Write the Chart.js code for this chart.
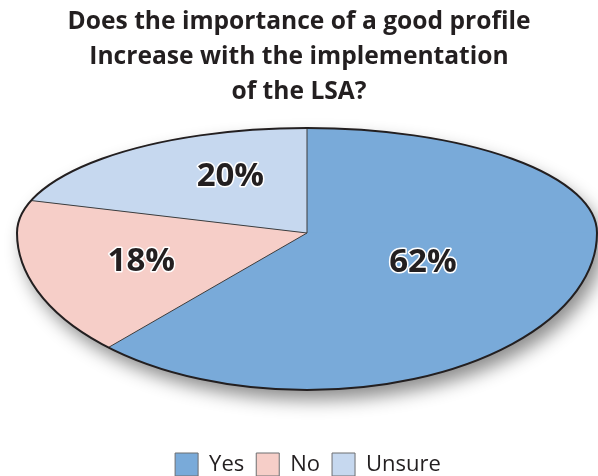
<!DOCTYPE html>
<html>
<head>
<meta charset="utf-8">
<script src="https://cdn.jsdelivr.net/npm/chart.js@4.4.0/dist/chart.umd.min.js"></script>
<style>
  html, body { margin: 0; padding: 0; background: #ffffff; }
</style>
</head>
<body>
<canvas id="pieChart" width="598" height="476"></canvas>
<script>
// data
var categories = ['Yes', 'No', 'Unsure'];
var shares = [62, 18, 20];
var titleLines = ['Does the importance of a good profile', 'Increase with the implementation', 'of the LSA?'];

var sliceColors = ['#79aad9', '#f6cec8', '#c6d8ef'];
var inkColor = '#231f20';

// where the tilted pie sits on the page (apex, half axes above / below it)
var tilt = { cx: 307, cy: 233, rx: 290, ryTop: 105, ryBot: 157 };
var labelRadius = [0.43, 0.59, 0.52];
var labelNudge = [[0, 5], [0, 6], [12, -12]];

function edgePoint(angle, f) {
  var s = Math.sin(angle);
  var ry = s < 0 ? tilt.ryTop : tilt.ryBot;
  return { x: tilt.cx + tilt.rx * Math.cos(angle) * f, y: tilt.cy + ry * s * f };
}

function eggPath(ctx) {
  ctx.beginPath();
  ctx.ellipse(tilt.cx, tilt.cy, tilt.rx, tilt.ryTop, 0, Math.PI, 2 * Math.PI);
  ctx.ellipse(tilt.cx, tilt.cy, tilt.rx, tilt.ryBot, 0, 0, Math.PI);
  ctx.closePath();
}

var tiltedPie = {
  id: 'tiltedPie',
  afterLayout: function (chart) {
    // legend sits a little right of the title in the original
    chart.legend.left += 9;
    chart.legend.right += 9;
  },
  beforeDatasetsDraw: function (chart) {
    var ctx = chart.ctx;
    var arcs = chart.getDatasetMeta(0).data;
    var W = chart.width, H = chart.height;

    // soft drop shadow under the whole pie
    ctx.save();
    eggPath(ctx);
    ctx.shadowColor = 'rgba(0,0,0,0.45)';
    ctx.shadowBlur = 18;
    ctx.shadowOffsetX = 6;
    ctx.shadowOffsetY = 10;
    ctx.fillStyle = sliceColors[0];
    ctx.fill();
    ctx.restore();

    // far half squashed more than near half
    var halves = [
      { top: 0, bottom: tilt.cy + 0.5, ry: tilt.ryTop },
      { top: tilt.cy - 0.5, bottom: H, ry: tilt.ryBot }
    ];
    halves.forEach(function (h) {
      ctx.save();
      ctx.beginPath();
      ctx.rect(0, h.top, W, h.bottom - h.top);
      ctx.clip();
      arcs.forEach(function (arc) {
        var r = arc.outerRadius;
        ctx.save();
        ctx.translate(tilt.cx, tilt.cy);
        ctx.scale(tilt.rx / r, h.ry / r);
        ctx.translate(-arc.x, -arc.y);
        arc.draw(ctx);
        ctx.restore();
      });
      ctx.restore();
    });

    // slice dividers
    ctx.save();
    ctx.strokeStyle = '#3d3d3d';
    ctx.lineWidth = 1;
    arcs.forEach(function (arc) {
      var p = edgePoint(arc.startAngle, 1);
      ctx.beginPath();
      ctx.moveTo(tilt.cx, tilt.cy);
      ctx.lineTo(p.x, p.y);
      ctx.stroke();
    });
    ctx.restore();

    // outline
    ctx.save();
    eggPath(ctx);
    ctx.strokeStyle = inkColor;
    ctx.lineWidth = 2;
    ctx.stroke();
    ctx.restore();

    // percentage labels
    ctx.save();
    ctx.font = 'bold 33px "Open Sans"';
    ctx.textAlign = 'center';
    ctx.textBaseline = 'middle';
    ctx.lineJoin = 'round';
    arcs.forEach(function (arc, i) {
      var mid = (arc.startAngle + arc.endAngle) / 2;
      var p = edgePoint(mid, labelRadius[i]);
      var x = p.x + labelNudge[i][0], y = p.y + labelNudge[i][1];
      var txt = shares[i] + '%';
      ctx.strokeStyle = '#ffffff';
      ctx.lineWidth = 3;
      ctx.strokeText(txt, x, y);
      ctx.fillStyle = inkColor;
      ctx.fillText(txt, x, y);
    });
    ctx.restore();

    return false;
  }
};

new Chart(document.getElementById('pieChart'), {
  type: 'pie',
  data: {
    labels: categories,
    datasets: [{
      data: shares,
      backgroundColor: sliceColors,
      borderWidth: 0
    }]
  },
  options: {
    responsive: false,
    devicePixelRatio: 1,
    animation: false,
    layout: { padding: { left: 10, right: 10, bottom: -10 } },
    plugins: {
      title: {
        display: true,
        text: titleLines,
        color: inkColor,
        font: { family: 'Open Sans', size: 24.6, weight: 'bold', lineHeight: 1.42 },
        padding: { top: 5, bottom: 10 }
      },
      legend: {
        position: 'bottom',
        labels: {
          color: inkColor,
          font: { family: 'Open Sans', size: 22 },
          boxWidth: 23,
          boxHeight: 23,
          padding: 12,
          generateLabels: function (chart) {
            var items = Chart.controllers.pie.overrides.plugins.legend.labels.generateLabels(chart);
            items.forEach(function (it) {
              it.strokeStyle = '#6d6e71';
              it.lineWidth = 1;
            });
            return items;
          }
        }
      },
      tooltip: { enabled: false }
    }
  },
  plugins: [tiltedPie]
});
</script>
</body>
</html>
